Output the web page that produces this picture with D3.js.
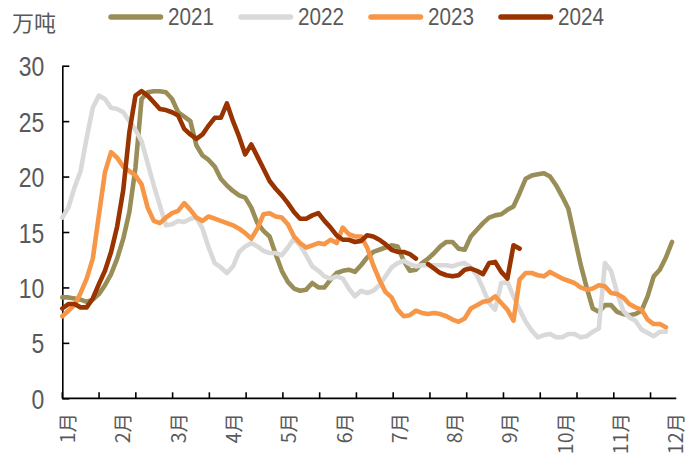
<!DOCTYPE html>
<html>
<head>
<meta charset="utf-8">
<script src="https://cdn.jsdelivr.net/npm/d3@7"></script>
<style>
  html, body { margin: 0; padding: 0; background: #fff; }
  svg { display: block; }
</style>
</head>
<body>
<svg id="chart" width="700" height="457"></svg>
<script>
// ---------------- DATA ----------------
const seriesNames = ["2021", "2022", "2023", "2024"];
const seriesColors = ["#998E57", "#D9D9D9", "#F79646", "#993300"];
const monthLabels = ["1月","2月","3月","4月","5月","6月","7月","8月","9月","10月","11月","12月"];
const yTicks = [0, 5, 10, 15, 20, 25, 30];
const unitLabel = "万吨";

const v2021 = [9.1,9.1,9.0,8.9,8.7,8.9,9.4,10.2,11.2,12.6,14.4,16.8,20.8,27.0,27.6,27.7,27.7,27.6,27.0,25.8,
  25.4,25.0,22.8,21.9,21.5,20.9,19.8,19.2,18.7,18.3,18.1,17.2,15.8,15.1,14.6,13.0,11.5,10.5,9.9,9.7,
  9.8,10.4,10.0,10.0,10.7,11.3,11.5,11.6,11.4,12.0,12.7,13.2,13.4,13.6,13.8,13.7,12.4,11.5,11.6,12.2,
  12.6,13.1,13.7,14.1,14.1,13.5,13.4,14.6,15.2,15.8,16.3,16.5,16.6,17.0,17.3,18.5,19.8,20.1,20.2,20.3,
  20.0,19.2,18.2,17.1,14.6,12.1,10.0,8.1,7.8,8.4,8.4,7.8,7.6,7.5,7.6,7.9,9.2,11.0,11.6,12.7,14.1];
const v2022 = [16.3,17.2,19.0,20.5,23.5,26.2,27.3,27.0,26.2,26.1,25.8,25.0,24.2,23.2,21.2,19.2,17.4,15.6,15.7,16.0,
  15.9,16.2,16.3,15.3,13.6,12.2,11.8,11.3,11.9,13.2,13.7,14.0,13.7,13.3,13.1,13.1,12.9,13.6,14.4,13.8,
  12.9,11.9,11.5,11.0,10.8,11.0,10.8,9.9,9.2,9.7,9.5,9.7,10.2,11.0,11.8,12.2,12.4,12.1,11.9,12.0,
  12.0,12.0,12.0,12.0,11.9,12.1,12.2,11.8,11.1,9.9,8.6,8.0,10.4,10.5,9.2,8.0,6.9,6.1,5.5,5.7,
  5.8,5.5,5.5,5.8,5.8,5.5,5.6,6.0,6.3,12.2,11.5,9.5,7.9,7.3,7.0,6.2,5.9,5.6,6.0,6.0];
const v2023 = [7.4,7.9,8.4,9.5,10.8,12.6,16.5,20.4,22.2,21.7,20.9,20.5,20.1,19.3,17.2,16.0,15.8,16.3,16.7,16.9,
  17.6,17.0,16.3,16.0,16.4,16.2,16.0,15.8,15.6,15.3,14.9,14.4,15.3,16.6,16.7,16.4,16.3,15.7,14.6,14.0,
  13.6,13.8,14.0,13.9,14.3,14.0,15.4,14.8,14.6,14.6,13.6,12.0,10.7,9.6,9.1,8.0,7.4,7.5,7.9,7.7,
  7.6,7.7,7.6,7.4,7.1,6.9,7.2,8.1,8.4,8.7,8.8,9.2,8.6,8.0,7.0,10.7,11.3,11.3,11.1,11.0,
  11.4,11.1,10.8,10.6,10.4,10.0,9.8,9.9,10.2,10.1,9.5,9.4,9.1,8.5,8.2,8.0,7.1,6.7,6.7,6.4];
const v2024 = [8.1,8.5,8.5,8.2,8.2,9.0,10.3,11.5,13.2,15.5,18.8,24.0,27.3,27.7,27.3,26.7,26.1,26.0,25.8,25.5,
  24.3,23.8,23.4,23.8,24.6,25.3,25.3,26.6,25.0,23.6,22.0,22.9,21.8,20.7,19.6,18.9,18.3,17.6,16.8,16.2,
  16.2,16.5,16.7,16.0,15.4,14.7,14.3,14.3,14.1,14.2,14.7,14.6,14.3,13.9,13.4,13.2,13.2,13.0,12.6,null,
  12.1,11.7,11.3,11.1,11.0,11.1,11.6,11.7,11.5,11.2,12.2,12.3,11.4,10.8,13.8,13.5];
const seriesValues = [v2021, v2022, v2023, v2024];

// x-axis layout in data-index units
const xMax = 100;          // last index of a full series
const xAxisEnd = 100.7;    // end of the axis line
const tickStep = 6.03;     // spacing of x tick marks
const labelStart = 0.93, labelStep = 9.07; // month label placement

// ---------------- CHART ----------------
const svg = d3.select("#chart");
const textColor = "#595959";
const latinFont = "'Liberation Sans', Arial, sans-serif";
const cjkFont = "'Noto Sans CJK SC', 'Liberation Sans', sans-serif";

const x = d3.scaleLinear().domain([0, xMax]).range([62.3, 672]);
const y = d3.scaleLinear().domain([0, 30]).range([398.3, 65.7]);

// y axis
const yAxis = svg.append("g")
  .attr("transform", `translate(${x(0)},0)`)
  .call(d3.axisLeft(y).tickValues(yTicks).tickSizeInner(-7).tickSizeOuter(0).tickFormat(d3.format("d")));
yAxis.select(".domain").attr("stroke", "#000").attr("stroke-width", 1.6);
yAxis.selectAll(".tick line").attr("stroke", "#000").attr("stroke-width", 1.6);
yAxis.selectAll(".tick text")
  .attr("x", null)
  .attr("dy", "0.36em")
  .attr("transform", "translate(-18,0) scale(0.82,1)")
  .attr("fill", textColor)
  .style("font-family", latinFont)
  .style("font-size", "28px");

// x axis
const xTickVals = d3.range(0, 17).map(k => k * tickStep);
const xAxisG = svg.append("g");
xAxisG.append("line")
  .attr("x1", x(0)).attr("x2", x(xAxisEnd))
  .attr("y1", y(0)).attr("y2", y(0))
  .attr("stroke", "#000").attr("stroke-width", 1.8);
xAxisG.selectAll("line.xt").data(xTickVals).join("line")
  .attr("class", "xt")
  .attr("x1", d => x(d)).attr("x2", d => x(d))
  .attr("y1", y(0)).attr("y2", y(0) - 6)
  .attr("stroke", "#000").attr("stroke-width", 1.6);

xAxisG.selectAll("text.xl").data(monthLabels).join("text")
  .attr("class", "xl")
  .attr("transform", (d, i) => `translate(${x(labelStart + i * labelStep)},413) rotate(-90)`)
  .attr("text-anchor", "end")
  .attr("dy", "0.36em")
  .attr("fill", textColor)
  .style("font-family", cjkFont)
  .style("font-size", "19.5px")
  .text(d => d);

// lines
const line = d3.line()
  .defined(d => d != null)
  .x((d, i) => x(i))
  .y(d => y(d));

svg.append("g").selectAll("path.series").data(seriesValues).join("path")
  .attr("class", "series")
  .attr("d", d => line(d))
  .attr("fill", "none")
  .attr("stroke", (d, i) => seriesColors[i])
  .attr("stroke-width", 4.6)
  .attr("stroke-linejoin", "round")
  .attr("stroke-linecap", "round");

// unit label
svg.append("text")
  .attr("x", 12).attr("y", 31)
  .attr("fill", textColor)
  .style("font-family", cjkFont)
  .style("font-size", "22px")
  .text(unitLabel);

// legend
const legend = svg.append("g");
const items = legend.selectAll("g").data(seriesNames).join("g")
  .attr("transform", (d, i) => `translate(${108 + i * 130},0)`);
items.append("line")
  .attr("x1", 3).attr("x2", 52.5)
  .attr("y1", 17).attr("y2", 17)
  .attr("stroke", (d, i) => seriesColors[i])
  .attr("stroke-width", 5.5)
  .attr("stroke-linecap", "round");
items.append("text")
  .attr("transform", "translate(60,25) scale(0.88,1)")
  .attr("fill", textColor)
  .style("font-family", latinFont)
  .style("font-size", "23.5px")
  .text(d => d);
</script>
</body>
</html>
